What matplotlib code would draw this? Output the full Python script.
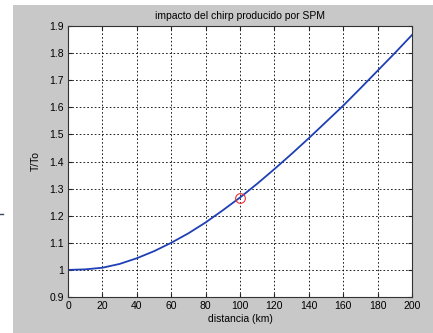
import matplotlib
matplotlib.use('Agg')
import matplotlib.pyplot as plt
from matplotlib.patches import Rectangle
from matplotlib.lines import Line2D

distancia = [0, 10, 20, 30, 40, 50, 60, 70, 80, 90, 100,
             110, 120, 130, 140, 150, 160, 170, 180, 190, 200]
ensanchamiento = [1.000, 1.002, 1.008, 1.022, 1.043, 1.069, 1.100, 1.135,
                  1.175, 1.220, 1.267, 1.318, 1.372, 1.428, 1.486, 1.546,
                  1.606, 1.670, 1.735, 1.800, 1.867]
punto_x = [100]
punto_y = [1.267]

xticks = list(range(0, 201, 20))
yticks = [0.9, 1.0, 1.1, 1.2, 1.3, 1.4, 1.5, 1.6, 1.7, 1.8, 1.9]
yticklabels = ['0.9', '1', '1.1', '1.2', '1.3', '1.4', '1.5', '1.6', '1.7', '1.8', '1.9']

plt.rcParams['font.family'] = ['Liberation Sans', 'DejaVu Sans']
W, H = 433, 333
fig = plt.figure(figsize=(W / 100, H / 100), dpi=100, facecolor='white')

# grey MATLAB-style figure background (screenshot crop leaves a white edge)
fig.add_artist(Rectangle((13 / W, 0), 1 - 13 / W, 1 - 5 / H,
                         transform=fig.transFigure, facecolor='#c8c8c8',
                         edgecolor='none', zorder=-10))
fig.add_artist(Line2D([0, 3 / W], [1 - 214 / H, 1 - 214 / H],
                      transform=fig.transFigure, color='#404860', lw=1,
                      zorder=-9))

ax = fig.add_axes([68 / W, 1 - 297 / H, 344 / W, 271 / H])
ax.set_facecolor('white')
ax.plot(distancia, ensanchamiento, color='#1f3fb5', lw=1.3)
ax.plot(punto_x, punto_y, 'o', mfc='none', mec='#ee3030', ms=7, mew=0.8)

ax.set_xlim(0, 200)
ax.set_ylim(0.9, 1.9)
ax.set_xticks(xticks)
ax.set_yticks(yticks)
ax.set_yticklabels(yticklabels)
ax.grid(True, color='black', linestyle=(0, (2, 2.5)), linewidth=0.6)
ax.tick_params(direction='in', length=3, labelsize=7.5, pad=3,
               top=True, right=True, color='#222222')
for s in ax.spines.values():
    s.set_color('#333333')
    s.set_linewidth(0.8)

ax.set_title('impacto del chirp producido por SPM', fontsize=7.5, pad=5)
ax.set_xlabel('distancia (km)', fontsize=7.5, labelpad=2)
ax.set_ylabel('T/To', fontsize=7.5, labelpad=6)

fig.savefig('out.png', dpi=100, facecolor=fig.get_facecolor())
